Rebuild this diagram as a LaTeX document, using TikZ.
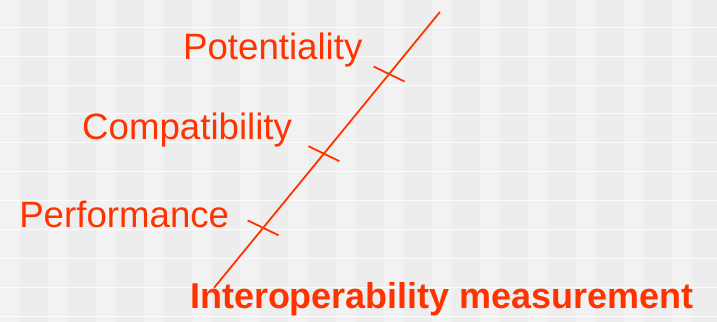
\documentclass[tikz,border=0pt]{standalone}
\usepackage{fontspec}
\setmainfont{Liberation Sans}
\definecolor{axisred}{HTML}{FF3300}
\definecolor{bggray}{HTML}{EDEDED}
\begin{document}
\begin{tikzpicture}[x=1pt, y=-1pt, line width=1.8pt,
  measure/.style={text=axisred, font=\fontsize{36.7}{40}\selectfont, inner sep=0pt, anchor=base west},
  tickmark/.style={draw=axisred, line width=1.8pt}]
\fill[bggray] (0,0) rectangle (717,322);
\foreach \x in {0,48,...,700} \fill[white, opacity=.3] (\x,0) rectangle ++(20,322);
\foreach \y in {27,56,...,320} \draw[white, line width=.8pt, opacity=.8] (0,\y) -- (717,\y);
\useasboundingbox (0,0) rectangle (717,322);
\coordinate (low) at (214,288);
\coordinate (high) at (440,12);
\draw[axisred] (low) -- (high)
  coordinate[pos=.217] (tperf) coordinate[pos=.486] (tcomp) coordinate[pos=.775] (tpot);
\draw[tickmark] (tperf) ++(-15.5,-7.5) -- ++(31,15);
\draw[tickmark] (tcomp) ++(-15.5,-7.5) -- ++(31,15);
\draw[tickmark] (tpot) ++(-15.5,-7.5) -- ++(31,15);
\node[measure] (pot) at (182,60) {Potentiality};
\node[measure] (comp) at (81,140) {Compatibility};
\node[measure] (perf) at (18,228) {Performance};
\node[measure, font=\fontsize{36}{40}\selectfont\bfseries] (title) at (189,309) {Interoperability measurement};
\end{tikzpicture}
\end{document}
